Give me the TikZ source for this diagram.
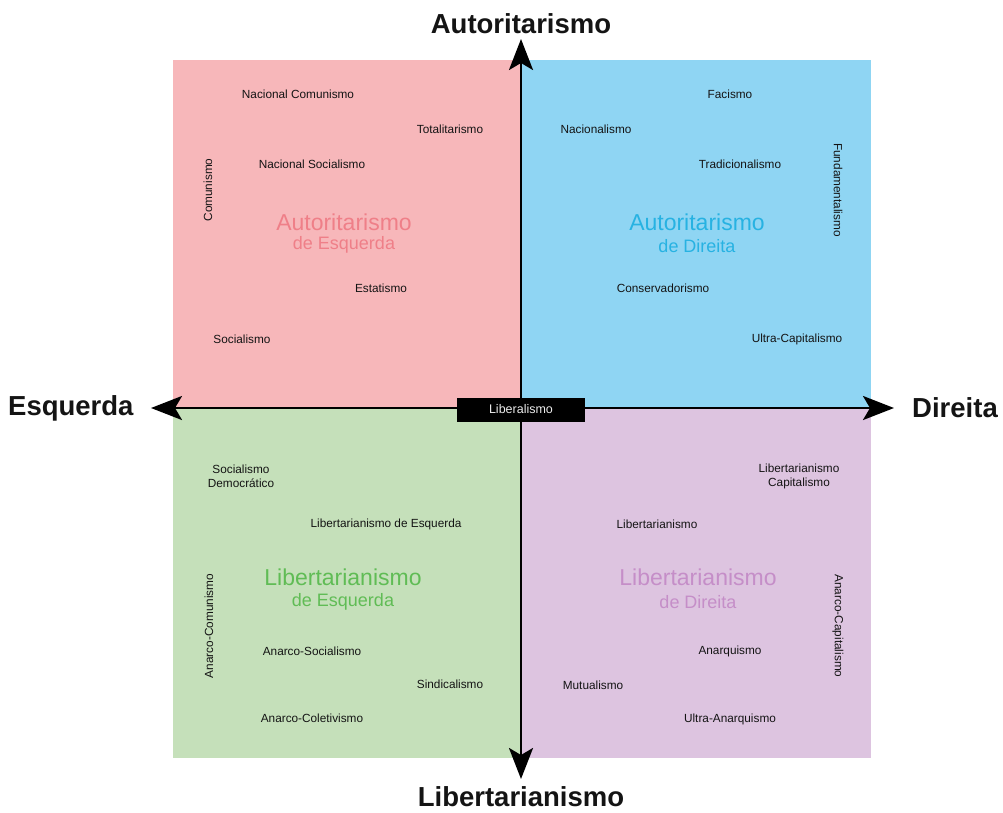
\documentclass[tikz,border=0pt]{standalone}
\usepackage{fontspec}
\setmainfont{Liberation Sans}
\usetikzlibrary{arrows.meta}

\definecolor{qpink}{HTML}{F7B7BA}
\definecolor{qblue}{HTML}{8FD5F3}
\definecolor{qgreen}{HTML}{C5E0BA}
\definecolor{qlilac}{HTML}{DDC4E0}
\definecolor{tpink}{HTML}{EF7F88}
\definecolor{tblue}{HTML}{27B2E2}
\definecolor{tgreen}{HTML}{60BC55}
\definecolor{tlilac}{HTML}{C58EC8}
\definecolor{ink}{HTML}{141414}

\tikzset{
  ideology/.style={inner sep=0pt, text=ink, font=\fontsize{11.8}{14}\selectfont, align=center},
  qtitle/.style={inner sep=0pt, font=\fontsize{23}{25}\selectfont},
  qsub/.style={inner sep=0pt, font=\fontsize{18}{20}\selectfont},
  axislabel/.style={inner sep=0pt, text=ink, font=\fontsize{27.5}{30}\selectfont\bfseries},
  axis/.style={line width=2.7pt, draw=black,
    {Stealth[length=31pt, width=24pt, inset=7pt]}-{Stealth[length=31pt, width=24pt, inset=7pt]}},
}

\begin{document}
\begin{tikzpicture}[x=1pt, y=-1pt]
  \useasboundingbox (0,0) rectangle (1003,812);
  \fill[white] (0,0) rectangle (1003,812);

  % quadrants
  \fill[qpink]  (173,60)  rectangle (521,408);
  \fill[qblue]  (521,60)  rectangle (871,408);
  \fill[qgreen] (173,408) rectangle (521,758);
  \fill[qlilac] (521,408) rectangle (871,758);

  % axes
  \coordinate (top) at (521,39);
  \coordinate (bottom) at (521,779);
  \coordinate (left) at (151,408);
  \coordinate (right) at (894,408);
  \draw[axis] (bottom) -- (top);
  \draw[axis] (left) -- (right);

  \node[axislabel] (lblA) at (521,24) {Autoritarismo};
  \node[axislabel] (lblL) at (521,797) {Libertarianismo};
  \node[axislabel, anchor=west] (lblE) at (8,408) {Esquerda};
  \node[axislabel, anchor=east] (lblD) at (998,408) {Direita};

  \node[fill=black, text=white!92!black, minimum width=128pt, minimum height=24pt,
        inner sep=0pt, font=\fontsize{12.5}{14}\selectfont] (lib) at (521,409.5) {Liberalismo};

  % authoritarian left
  \node[qtitle, text=tpink] (t1) at (344,222) {Autoritarismo};
  \node[qsub, text=tpink] (s1) at (344,245) {de Esquerda};
  \node[ideology] (a1) at (298,94) {Nacional Comunismo};
  \node[ideology] (a2) at (450,129) {Totalitarismo};
  \node[ideology] (a3) at (312,164) {Nacional Socialismo};
  \node[ideology, rotate=90] (a4) at (208,190) {Comunismo};
  \node[ideology] (a5) at (381,288) {Estatismo};
  \node[ideology] (a6) at (242,339) {Socialismo};

  % authoritarian right
  \node[qtitle, text=tblue] (t2) at (697,222) {Autoritarismo};
  \node[qsub, text=tblue] (s2) at (697,246) {de Direita};
  \node[ideology] (b1) at (730,94) {Facismo};
  \node[ideology] (b2) at (596,129) {Nacionalismo};
  \node[ideology] (b3) at (740,164) {Tradicionalismo};
  \node[ideology, rotate=-90] (b4) at (838,190) {Fundamentalismo};
  \node[ideology] (b5) at (663,288) {Conservadorismo};
  \node[ideology] (b6) at (797,339) {Ultra-Capitalismo};

  % libertarian left
  \node[qtitle, text=tgreen] (t3) at (343,577) {Libertarianismo};
  \node[qsub, text=tgreen] (s3) at (343,602) {de Esquerda};
  \node[ideology] (c1) at (241,476) {Socialismo\\Democrático};
  \node[ideology] (c2) at (386,524) {Libertarianismo de Esquerda};
  \node[ideology, rotate=90] (c3) at (209,626) {Anarco-Comunismo};
  \node[ideology] (c4) at (312,651) {Anarco-Socialismo};
  \node[ideology] (c5) at (450,684) {Sindicalismo};
  \node[ideology] (c6) at (312,718) {Anarco-Coletivismo};

  % libertarian right
  \node[qtitle, text=tlilac] (t4) at (698,577) {Libertarianismo};
  \node[qsub, text=tlilac] (s4) at (698,602) {de Direita};
  \node[ideology] (d1) at (799,476) {Libertarianismo\\Capitalismo};
  \node[ideology] (d2) at (657,524) {Libertarianismo};
  \node[ideology, rotate=-90] (d3) at (838,626) {Anarco-Capitalismo};
  \node[ideology] (d4) at (730,651) {Anarquismo};
  \node[ideology] (d5) at (593,685) {Mutualismo};
  \node[ideology] (d6) at (730,719) {Ultra-Anarquismo};
\end{tikzpicture}
\end{document}
